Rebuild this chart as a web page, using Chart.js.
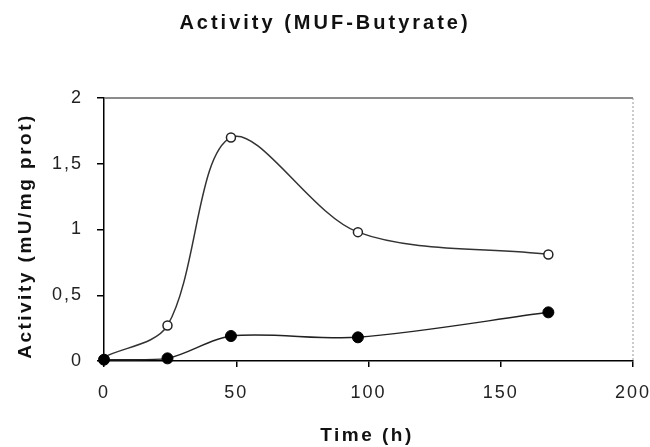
<!DOCTYPE html>
<html>
<head>
<meta charset="utf-8">
<script src="https://cdn.jsdelivr.net/npm/chart.js@4.4.1/dist/chart.umd.min.js"></script>
<style>
  html, body { margin: 0; padding: 0; background: #fff; }
  #wrap { width: 650px; height: 447px; }
</style>
</head>
<body>
<div id="wrap"><canvas id="activityChart" width="650" height="447"></canvas></div>
<script>
/* DATA */
const timeHours = [0, 24, 48, 96, 168];
const openSeries = [0.03, 0.27, 1.70, 0.98, 0.81];
const filledSeries = [0.01, 0.02, 0.19, 0.18, 0.37];
const xTicks = [0, 50, 100, 150, 200];
const yTicks = [0, 0.5, 1, 1.5, 2];

const chartTitle = 'Activity (MUF-Butyrate)';
const xTitle = 'Time (h)';
const yTitle = 'Activity (mU/mg prot)';

const toPoints = (vals) => vals.map((v, i) => ({ x: timeHours[i], y: v }));

/* titles + frame, drawn with letter spacing like the scan */
const decorPlugin = {
    id: 'decor',
    beforeDraw(chart) {
        chart.ctx.letterSpacing = '2px';
    },
    afterDraw(chart) {
        const ctx = chart.ctx;
        const a = chart.chartArea;
        ctx.save();

        // top + right frame
        ctx.strokeStyle = '#666';
        ctx.lineWidth = 1.5;
        ctx.beginPath();
        ctx.moveTo(a.left, a.top);
        ctx.lineTo(a.right, a.top);
        ctx.stroke();
        ctx.strokeStyle = '#999';
        ctx.lineWidth = 1;
        ctx.setLineDash([2, 2]);
        ctx.beginPath();
        ctx.moveTo(a.right, a.top);
        ctx.lineTo(a.right, a.bottom);
        ctx.stroke();
        ctx.setLineDash([]);

        ctx.fillStyle = '#111';
        ctx.textAlign = 'center';
        ctx.textBaseline = 'middle';

        ctx.font = 'bold 20px "Liberation Sans", Arial, sans-serif';
        ctx.letterSpacing = '3px';
        ctx.fillText(chartTitle, 325, 23);

        ctx.font = 'bold 19px "Liberation Sans", Arial, sans-serif';
        ctx.letterSpacing = '2.5px';
        ctx.fillText(xTitle, 367, 436);

        ctx.translate(26, 236);
        ctx.rotate(-Math.PI / 2);
        ctx.fillText(yTitle, 0, 0);

        ctx.restore();
    }
};

new Chart(document.getElementById('activityChart'), {
    type: 'line',
    data: {
        datasets: [
            {
                label: 'Filled',
                data: toPoints(filledSeries),
                borderColor: '#222',
                borderWidth: 1.5,
                pointRadius: 5.5,
                pointBackgroundColor: '#000',
                pointBorderColor: '#000',
                pointBorderWidth: 1,
                tension: 0.3,
                clip: false
            },
            {
                label: 'Open',
                data: toPoints(openSeries),
                borderColor: '#333',
                borderWidth: 1.5,
                pointRadius: [0, 4.5, 4.5, 4.5, 4.5],
                pointBackgroundColor: '#fff',
                pointBorderColor: '#222',
                pointBorderWidth: 1.5,
                tension: 0.32,
                clip: false
            }
        ]
    },
    options: {
        responsive: false,
        animation: false,
        layout: { padding: { top: 98, right: 17, left: 0, bottom: 0 } },
        plugins: {
            legend: { display: false },
            tooltip: { enabled: false }
        },
        scales: {
            x: {
                type: 'linear',
                min: xTicks[0],
                max: xTicks[xTicks.length - 1],
                afterFit: (s) => { s.height = 86; s.paddingLeft = 0; s.paddingRight = 0; },
                afterBuildTicks: (s) => { s.ticks = xTicks.map(v => ({ value: v })); },
                grid: { drawOnChartArea: false, tickLength: 6, color: '#000', lineWidth: 1.5 },
                border: { color: '#000', width: 1.5 },
                ticks: {
                    color: '#222',
                    padding: 15,
                    maxRotation: 0,
                    font: { family: '"Liberation Sans", Arial, sans-serif', size: 18 }
                }
            },
            y: {
                min: yTicks[0],
                max: yTicks[yTicks.length - 1],
                afterFit: (s) => { s.width = 104; s.paddingTop = 0; s.paddingBottom = 0; },
                afterBuildTicks: (s) => { s.ticks = yTicks.map(v => ({ value: v })); },
                grid: { drawOnChartArea: false, tickLength: 7, color: '#000', lineWidth: 1.5 },
                border: { color: '#000', width: 1.5 },
                ticks: {
                    color: '#222',
                    padding: 14,
                    font: { family: '"Liberation Sans", Arial, sans-serif', size: 18 },
                    callback: (v) => String(v).replace('.', ',')
                }
            }
        }
    },
    plugins: [decorPlugin]
});
</script>
</body>
</html>
